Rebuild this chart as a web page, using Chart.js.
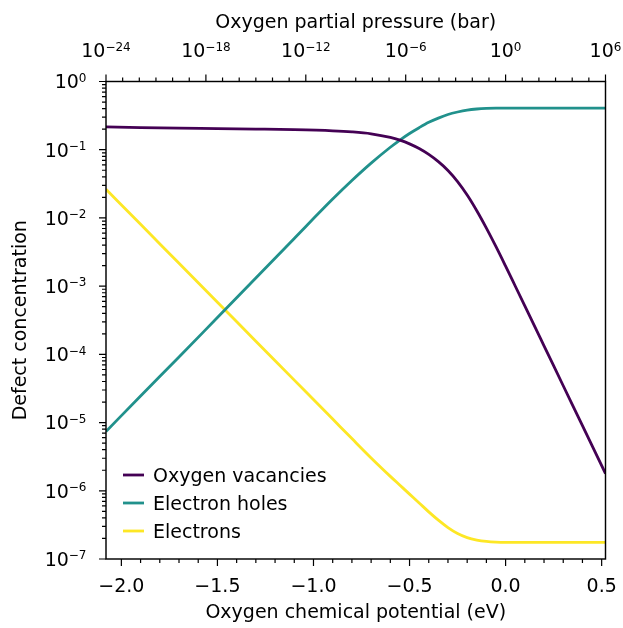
<!DOCTYPE html>
<html>
<head>
<meta charset="utf-8">
<title>Defect concentrations</title>
<script src="https://cdn.jsdelivr.net/npm/chart.js@4.4.1/dist/chart.umd.min.js"></script>
<style>
  html, body { margin: 0; padding: 0; background: #fff; }
  canvas { display: block; }
</style>
</head>
<body>
<canvas id="defectChart" width="623" height="628"></canvas>
<script>
const chemPotential = [-2.08, -1.9, -1.7, -1.5, -1.3, -1.1, -0.9, -0.8, -0.7, -0.6, -0.55, -0.5, -0.45, -0.4,
    -0.35, -0.3, -0.25, -0.2, -0.15, -0.1, -0.05, 0.0, 0.05, 0.1, 0.2, 0.3, 0.4, 0.52];

// Defect concentrations for each series
const oxygenVacancies = [0.2163, 0.2109, 0.207, 0.2042, 0.2009, 0.1968, 0.1892, 0.1824, 0.1712, 0.1517, 0.138, 0.1219,
    0.104, 0.0853, 0.0668, 0.0497, 0.03416, 0.02168, 0.01276, 0.007096, 0.003789, 0.001965, 0.001005, 5.13e-4,
    1.334e-4, 3.467e-5, 9.02e-6, 1.79e-6];
const electronHoles = [7.41e-6, 2.455e-5, 9.12e-5, 3.47e-4, 1.318e-3, 5.01e-3, 0.01888, 0.03532, 0.06353, 0.1086,
    0.1387, 0.1731, 0.2104, 0.2518, 0.2904, 0.3281, 0.3573, 0.3811, 0.3954, 0.4036, 0.4074, 0.4083, 0.4083, 0.4083,
    0.4083, 0.4083, 0.4083, 0.4083];
const electrons = [0.0263, 8.05e-3, 2.163e-3, 5.81e-4, 1.56e-4, 4.19e-5, 1.125e-5, 5.82e-6, 3.03e-6, 1.627e-6, 1.206e-6,
    8.94e-7, 6.63e-7, 4.91e-7, 3.71e-7, 2.89e-7, 2.366e-7, 2.061e-7, 1.897e-7, 1.807e-7, 1.764e-7, 1.75e-7, 1.75e-7,
    1.75e-7, 1.75e-7, 1.75e-7, 1.75e-7, 1.75e-7];

const seriesNames = ['Oxygen vacancies', 'Electron holes', 'Electrons'];
const seriesColours = ['#440154', '#21918c', '#fde725'];

// Tick labels
const potentialTicks = [-2.0, -1.5, -1.0, -0.5, 0.0, 0.5];
const pressureExponents = [-24, -18, -12, -6, 0, 6];
const concentrationExponents = [-7, -6, -5, -4, -3, -2, -1, 0];

const FONT = 'DejaVu Sans';
const FONT_SIZE = 19;
const SUP_SIZE = 12;
Chart.defaults.font.family = FONT;
Chart.defaults.font.size = FONT_SIZE;
Chart.defaults.color = '#000';

const toPoints = values => chemPotential.map((mu, i) => ({ x: mu, y: values[i] }));

// "10" with a raised exponent, like matplotlib's mathtext labels
function drawPower(ctx, exp, x, y, align) {
    const expText = String(exp).replace('-', '\u2212');
    ctx.font = FONT_SIZE + 'px "' + FONT + '"';
    const baseW = ctx.measureText('10').width;
    ctx.font = SUP_SIZE + 'px "' + FONT + '"';
    const expW = ctx.measureText(expText).width;
    const left = align === 'right' ? x - baseW - expW : x - (baseW + expW) / 2;
    ctx.textAlign = 'left';
    ctx.textBaseline = 'alphabetic';
    ctx.font = FONT_SIZE + 'px "' + FONT + '"';
    ctx.fillText('10', left, y);
    ctx.font = SUP_SIZE + 'px "' + FONT + '"';
    ctx.fillText(expText, left + baseW, y - 6.6);
}

// frame, major/minor tick marks and the power-of-ten labels
const frameTicks = {
    id: 'frameTicks',
    afterDraw(chart) {
        const { ctx, chartArea: area, scales } = chart;
        ctx.save();
        ctx.strokeStyle = '#000';
        ctx.lineWidth = 1.2;
        ctx.beginPath();
        for (let i = -20; i <= 5; i++) {
            const x = scales.x.getPixelForValue(i / 10);
            const len = i % 5 === 0 ? 7 : 4;
            ctx.moveTo(x, area.bottom);
            ctx.lineTo(x, area.bottom + len);
        }
        for (let e = -24; e <= 6; e++) {
            const x = scales.x2.getPixelForValue(e);
            const len = e % 6 === 0 ? 7 : 4;
            ctx.moveTo(x, area.top);
            ctx.lineTo(x, area.top - len);
        }
        for (let e = -7; e <= 0; e++) {
            for (let k = 1; k <= 9; k++) {
                const v = k * Math.pow(10, e);
                if (v > 1.0001) break;
                const y = scales.y.getPixelForValue(v);
                const len = k === 1 ? 7 : 4;
                ctx.moveTo(area.left, y);
                ctx.lineTo(area.left - len, y);
            }
        }
        ctx.stroke();
        ctx.lineWidth = 1.45;
        ctx.strokeRect(area.left, area.top, area.right - area.left, area.bottom - area.top);

        ctx.fillStyle = '#000';
        pressureExponents.forEach(e => {
            drawPower(ctx, e, scales.x2.getPixelForValue(e), area.top - 24.4, 'center');
        });
        concentrationExponents.forEach(e => {
            const y = scales.y.getPixelForValue(Math.pow(10, e));
            drawPower(ctx, e, area.left - 19.5, y + 6.9, 'right');
        });
        ctx.restore();
    }
};

// legend drawn inside the lower left of the plot
const insideLegend = {
    id: 'insideLegend',
    afterDatasetsDraw(chart) {
        const { ctx, chartArea: area } = chart;
        ctx.save();
        ctx.font = FONT_SIZE + 'px "' + FONT + '"';
        ctx.textBaseline = 'alphabetic';
        ctx.textAlign = 'left';
        chart.data.datasets.forEach((ds, i) => {
            const y = area.bottom - 84 + i * 28;
            ctx.strokeStyle = ds.borderColor;
            ctx.lineWidth = 2.8;
            ctx.beginPath();
            ctx.moveTo(area.left + 17, y);
            ctx.lineTo(area.left + 38, y);
            ctx.stroke();
            ctx.fillStyle = '#000';
            ctx.fillText(ds.label, area.left + 47, y + 6.9);
        });
        ctx.restore();
    }
};

const noPad = scale => {
    scale.paddingLeft = 0;
    scale.paddingRight = 0;
    scale.paddingTop = 0;
    scale.paddingBottom = 0;
};

const ctx = document.getElementById('defectChart').getContext('2d');
const defectChart = new Chart(ctx, {
    type: 'line',
    data: {
        datasets: [oxygenVacancies, electronHoles, electrons].map((values, i) => ({
            label: seriesNames[i],
            data: toPoints(values),
            borderColor: seriesColours[i],
            backgroundColor: seriesColours[i],
            borderWidth: 2.8,
            pointRadius: 0,
            fill: false,
            cubicInterpolationMode: 'monotone'
        }))
    },
    options: {
        responsive: false,
        animation: false,
        devicePixelRatio: 1,
        layout: { padding: { left: 0, right: 17.5, top: 0, bottom: 0 } },
        plugins: {
            legend: { display: false },
            tooltip: { enabled: false }
        },
        scales: {
            x: {
                type: 'linear',
                position: 'bottom',
                min: -2.08,
                max: 0.52,
                grid: { display: false, drawTicks: false },
                border: { display: false },
                afterBuildTicks: scale => { scale.ticks = potentialTicks.map(v => ({ value: v })); },
                afterFit: scale => { scale.height = 69; noPad(scale); },
                ticks: {
                    padding: 16.6,
                    maxRotation: 0,
                    callback: v => v.toFixed(1).replace('-', '\u2212')
                },
                title: {
                    display: true,
                    text: 'Oxygen chemical potential (eV)',
                    font: { size: FONT_SIZE, lineHeight: 1 },
                    padding: { top: 0, bottom: 5.2 }
                }
            },
            x2: {
                type: 'linear',
                position: 'top',
                min: -24,
                max: 6,
                grid: { display: false, drawTicks: false },
                border: { display: false },
                afterBuildTicks: scale => { scale.ticks = pressureExponents.map(v => ({ value: v })); },
                afterFit: scale => { scale.height = 81.5; noPad(scale); },
                ticks: { display: false },
                title: {
                    display: true,
                    text: 'Oxygen partial pressure (bar)',
                    font: { size: FONT_SIZE, lineHeight: 1 },
                    padding: { top: 13.8, bottom: 0 }
                }
            },
            y: {
                type: 'logarithmic',
                min: 1e-7,
                max: 1,
                grid: { display: false, drawTicks: false },
                border: { display: false },
                afterBuildTicks: scale => {
                    scale.ticks = concentrationExponents.map(e => ({ value: Math.pow(10, e) }));
                },
                afterFit: scale => { scale.width = 106; noPad(scale); },
                ticks: { display: false },
                title: {
                    display: true,
                    text: 'Defect concentration',
                    font: { size: FONT_SIZE, lineHeight: 1 },
                    padding: { top: 11.8, bottom: 0 }
                }
            }
        }
    },
    plugins: [frameTicks, insideLegend]
});
</script>
</body>
</html>
